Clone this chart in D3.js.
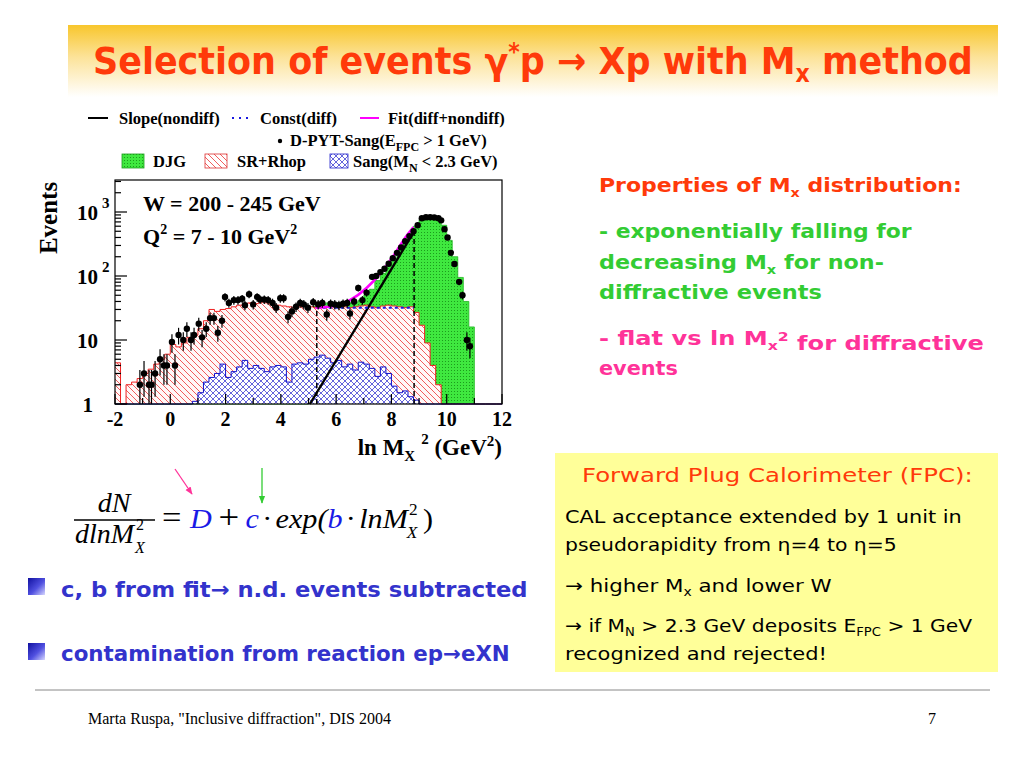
<!DOCTYPE html>
<html>
<head>
<meta charset="utf-8">
<script src="https://cdn.jsdelivr.net/npm/d3@7"></script>
<style>
  body { margin: 0; background: #fff; }
  svg { display: block; }
</style>
</head>
<body>
<svg id="slide" width="1024" height="768"></svg>
<script>
// ---- histogram bins: left edge -2, width 0.2 (ln Mx^2)
var binStart = -2, binWidth = 0.2;

// SR+Rhop (red hatched)
var redVals = [4.4, 0, 2, 2.2, 2.5, 3, 3.5, 4.2, 5, 6,
  8.5, 7.8, 9, 11, 12, 15, 20, 30, 28, 30,
  31, 33, 35, 36, 38, 37, 39, 38, 36, 35,
  34, 33, 32, 33, 34, 33, 32, 34, 33, 33,
  34, 33, 32, 33, 34, 35, 33, 32, 34, 35,
  34, 33, 32, 33, 27, 17, 9, 4, 2, 0,
  0, 0, 0, 0, 0, 0, 0, 0, 0, 0];

// DJG (green)
var greenVals = [0, 0, 0, 0, 0, 0, 0, 0, 0, 0,
  0, 0, 0, 0, 0, 0, 0, 0, 0, 0,
  0, 0, 0, 0, 0, 0, 0, 0, 0, 0,
  0, 0, 0, 0, 0, 30, 34, 37, 38, 37,
  38, 38, 38, 39, 42, 50, 62, 85, 110, 145,
  190, 250, 340, 450, 600, 760, 810, 820, 800, 620,
  360, 200, 95, 40, 16, 0, 0, 0, 0, 0];

// Sang(MN < 2.3 GeV) (blue cross-hatched)
var blueVals = [0, 0, 0, 0, 0, 0, 0, 0, 0, 0,
  0, 0, 0, 0, 1.1, 1.5, 2.2, 2.6, 3, 4.2,
  2.6, 3.2, 3.8, 4.8, 3.6, 4, 3.6, 3.2, 3.8, 4,
  3.8, 2.2, 4.2, 4.4, 4.2, 5, 5.4, 5.8, 5.2, 4.4,
  4.8, 3.8, 4.2, 3.4, 4.5, 4.2, 3.6, 2.7, 3.8, 3,
  1.9, 1.5, 1.6, 1.3, 1.15, 0, 0, 0, 0, 0,
  0, 0, 0, 0, 0, 0, 0, 0, 0, 0];

// D-PYT-Sang data points
var ptX = [-1.10, -0.95, -0.77, -0.68, -0.55, -0.37, -0.23, -0.12, 0.06, 0.17,
  0.30, 0.47, 0.60, 0.75, 0.86, 1.03, 1.15, 1.30, 1.44, 1.58,
  1.72, 1.87, 1.98, 2.12, 2.30, 2.45, 2.60, 2.70, 2.85, 3.00,
  3.14, 3.25, 3.40, 3.54, 3.70, 3.83, 3.98, 4.10, 4.26, 4.40,
  4.55, 4.70, 4.83, 4.98, 5.17, 5.35, 5.50, 5.66, 5.80, 5.95,
  6.10, 6.25, 6.40, 6.50, 6.65, 6.80, 6.95, 7.10, 7.30, 7.45,
  7.60, 7.75, 7.90, 8.05, 8.20, 8.35, 8.50, 8.65, 8.80, 8.95,
  9.10, 9.25, 9.40, 9.55, 9.70, 9.80, 9.92, 10.03, 10.15, 10.28,
  10.45, 10.57, 10.73, 10.84];
var ptY = [2, 3, 2, 2, 3, 5, 4, 4, 9.3, 4,
  12, 10, 15, 10, 12, 18, 11, 15, 22, 22,
  13, 20, 47, 38, 42, 42, 44, 35, 52, 36,
  47, 43, 43, 42, 38, 32, 45, 45, 23, 28,
  33, 38, 36, 32, 39, 36, 38, 25, 37, 36,
  35, 37, 38, 26, 40, 65, 42, 55, 97, 100,
  115, 130, 155, 190, 230, 280, 350, 420, 500, 620,
  800, 830, 830, 820, 800, 740, 540, 400, 230, 154,
  81, 50, 10, 8];
var ptErr = [1.4, 1.7, 1.4, 1.4, 1.7, 2.2, 2, 2, 3, 2,
  3.5, 3.2, 3.9, 3.2, 3.5, 4.2, 3.3, 3.9, 4.7, 4.7,
  3.6, 4.5, 6.9, 6.2, 6.5, 6.5, 6.6, 5.9, 7.2, 6,
  6.9, 6.6, 6.6, 6.5, 6.2, 5.7, 6.7, 6.7, 4.8, 5.3,
  5.7, 6.2, 6, 5.7, 6.2, 6, 6.2, 5, 6.1, 6,
  5.9, 6.1, 6.2, 5.1, 6.3, 8, 6.5, 7.4, 9.8, 10,
  10.7, 11.4, 12.4, 13.8, 15.2, 16.7, 18.7, 20.5, 22.4, 24.9,
  28, 29, 29, 29, 28, 27, 23, 20, 15, 12.4,
  9, 7, 3.2, 2.8];

// fit curves
var slopeLine = [[5.05, 1], [8.85, 520]];
var constLine = [[5.3, 32], [8.8, 32]];
var fitCurve = [[5.25, 32], [5.9, 34], [6.5, 42], [7.1, 65], [7.6, 110], [8.1, 215], [8.45, 370], [8.8, 580]];
var fitRange = [[5.3, 32], [8.82, 500]];

var xTicks = [-2, 0, 2, 4, 6, 8, 10, 12];
var yDecades = [1, 10, 100, 1000];

var svg = d3.select("#slide");
var serif = "'Liberation Serif', 'Times New Roman', serif";
var sans = "'DejaVu Sans', sans-serif";

// squeeze a text horizontally so it spans len pixels from its start x
function fitWidth(t, xx, len) {
  var w = t.node().getBBox().width;
  var k = len / w;
  t.attr("transform", "translate(" + xx + ",0) scale(" + k + ",1) translate(" + (-xx) + ",0)");
  return t;
}

// ---------- defs
var defs = svg.append("defs");
var g1 = defs.append("linearGradient").attr("id", "band").attr("x1", 0).attr("y1", 0).attr("x2", 0).attr("y2", 1);
g1.append("stop").attr("offset", "0%").attr("stop-color", "#f8c62c");
g1.append("stop").attr("offset", "45%").attr("stop-color", "#fce39a");
g1.append("stop").attr("offset", "100%").attr("stop-color", "#ffffff");

var g2 = defs.append("linearGradient").attr("id", "bullet").attr("x1", 0).attr("y1", 0).attr("x2", 1).attr("y2", 1);
g2.append("stop").attr("offset", "0%").attr("stop-color", "#1010a0");
g2.append("stop").attr("offset", "55%").attr("stop-color", "#5050e0");
g2.append("stop").attr("offset", "100%").attr("stop-color", "#d8d8ff");

var pr = defs.append("pattern").attr("id", "hatchRed").attr("patternUnits", "userSpaceOnUse")
  .attr("width", 6).attr("height", 6);
pr.append("path").attr("d", "M0,0 L6,6 M-1,5 L1,7 M5,-1 L7,1")
  .attr("stroke", "#e33").attr("stroke-width", 0.8);

var pb = defs.append("pattern").attr("id", "hatchBlue").attr("patternUnits", "userSpaceOnUse")
  .attr("width", 6).attr("height", 6);
pb.append("path").attr("d", "M0,0 L6,6 M-1,5 L1,7 M5,-1 L7,1 M0,6 L6,0 M-1,1 L1,-1 M5,7 L7,5")
  .attr("stroke", "#22c").attr("stroke-width", 0.7);

var pg = defs.append("pattern").attr("id", "dotGreen").attr("patternUnits", "userSpaceOnUse")
  .attr("width", 3).attr("height", 3);
pg.append("rect").attr("width", 3).attr("height", 3).attr("fill", "#3fe83f");
pg.append("rect").attr("x", 1).attr("y", 1).attr("width", 1).attr("height", 1).attr("fill", "#1c9c1c");

// ---------- title band
svg.append("rect").attr("x", 68).attr("y", 25).attr("width", 930).attr("height", 72).attr("fill", "url(#band)");
var title = svg.append("text").attr("x", 93).attr("y", 74)
  .attr("font-family", sans).attr("font-weight", "bold").attr("font-size", 38)
  .attr("fill", "#ff3a0a");
title.append("tspan").text("Selection of events \u03b3");
title.append("tspan").attr("font-size", 24).attr("dy", -14).text("*");
title.append("tspan").attr("dy", 14).text("p \u2192 Xp with M");
title.append("tspan").attr("font-size", 24).attr("dy", 8).text("x");
title.append("tspan").attr("dy", -8).text(" method");
fitWidth(title, 93, 880);

// ---------- plot
var x = d3.scaleLinear().domain([-2, 12]).range([115, 502]);
var y = d3.scaleLog().domain([1, Math.pow(10, 3.5)]).range([404, 180]).clamp(true);
var y0 = y(1);

function steps(vals) {
  var out = [];
  vals.forEach(function(v, i) {
    var a = binStart + i * binWidth;
    out.push([a, v], [a + binWidth, v]);
  });
  return out;
}
var area = d3.area().x(function(d) { return x(d[0]); }).y0(y0)
  .y1(function(d) { return y(Math.max(d[1], 1)); });
var line = d3.line().x(function(d) { return x(d[0]); })
  .y(function(d) { return y(Math.max(d[1], 1)); });

var plot = svg.append("g");

// green DJG
plot.append("path").datum(steps(greenVals)).attr("d", area).attr("fill", "url(#dotGreen)");
plot.append("path").datum(steps(greenVals)).attr("d", line).attr("fill", "none")
  .attr("stroke", "#22b822").attr("stroke-width", 0.8);
// red SR+Rhop
plot.append("path").datum(steps(redVals)).attr("d", area).attr("fill", "#fff8f8");
plot.append("path").datum(steps(redVals)).attr("d", area).attr("fill", "url(#hatchRed)");
plot.append("path").datum(steps(redVals)).attr("d", line).attr("fill", "none")
  .attr("stroke", "#e22").attr("stroke-width", 1);
// blue Sang
plot.append("path").datum(steps(blueVals)).attr("d", area).attr("fill", "#fff");
plot.append("path").datum(steps(blueVals)).attr("d", area).attr("fill", "url(#hatchBlue)");
plot.append("path").datum(steps(blueVals)).attr("d", line).attr("fill", "none")
  .attr("stroke", "#11c").attr("stroke-width", 1);

// fit range
plot.selectAll(".range").data(fitRange).enter().append("line")
  .attr("x1", function(d) { return x(d[0]); }).attr("x2", function(d) { return x(d[0]); })
  .attr("y1", y0).attr("y2", function(d) { return y(d[1]); })
  .attr("stroke", "#000").attr("stroke-width", 1.5).attr("stroke-dasharray", "5,3");

var fitLine = d3.line().x(function(d) { return x(d[0]); }).y(function(d) { return y(d[1]); });
plot.append("path").datum(slopeLine).attr("d", fitLine).attr("fill", "none")
  .attr("stroke", "#000").attr("stroke-width", 2.4);
plot.append("path").datum(constLine).attr("d", fitLine).attr("fill", "none")
  .attr("stroke", "#1a1ae0").attr("stroke-width", 2).attr("stroke-dasharray", "3,3");
plot.append("path").datum(fitCurve).attr("d", fitLine.curve(d3.curveMonotoneX)).attr("fill", "none")
  .attr("stroke", "#f0f").attr("stroke-width", 2.6);

// data points
var pts = ptX.map(function(v, i) { return { x: v, y: ptY[i], e: ptErr[i] }; });
plot.selectAll(".err").data(pts).enter().append("line")
  .attr("x1", function(d) { return x(d.x); }).attr("x2", function(d) { return x(d.x); })
  .attr("y1", function(d) { return y(Math.max(d.y - d.e, 1)); })
  .attr("y2", function(d) { return y(d.y + d.e); })
  .attr("stroke", "#000").attr("stroke-width", 1.2);
plot.selectAll(".pt").data(pts).enter().append("circle")
  .attr("cx", function(d) { return x(d.x); }).attr("cy", function(d) { return y(d.y); })
  .attr("r", 3.2).attr("fill", "#000");

// frame
svg.append("rect").attr("x", 115).attr("y", 180).attr("width", 387).attr("height", 224)
  .attr("fill", "none").attr("stroke", "#000").attr("stroke-width", 1.2);

// x axis
svg.selectAll(".xt").data(d3.range(-2, 13, 1)).enter().append("line")
  .attr("x1", function(d) { return x(d); }).attr("x2", function(d) { return x(d); })
  .attr("y1", y0).attr("y2", function(d) { return y0 - (d % 2 === 0 ? 10 : 6); })
  .attr("stroke", "#000").attr("stroke-width", 1.2);
svg.selectAll(".xl").data(xTicks).enter().append("text")
  .attr("x", function(d) { return x(d); }).attr("y", 426)
  .attr("text-anchor", "middle").attr("font-family", serif).attr("font-weight", "bold")
  .attr("font-size", 20).text(function(d) { return d; });

// y axis ticks
var minor = [];
yDecades.forEach(function(dec) {
  for (var k = 2; k <= 9; k++) { if (dec * k <= Math.pow(10, 3.5)) minor.push(dec * k); }
});
svg.selectAll(".ymin").data(minor).enter().append("line")
  .attr("x1", 115).attr("x2", 121).attr("y1", function(d) { return y(d); }).attr("y2", function(d) { return y(d); })
  .attr("stroke", "#000").attr("stroke-width", 1.2);
svg.selectAll(".ymaj").data(yDecades).enter().append("line")
  .attr("x1", 115).attr("x2", 127).attr("y1", function(d) { return y(d); }).attr("y2", function(d) { return y(d); })
  .attr("stroke", "#000").attr("stroke-width", 1.2);
svg.selectAll(".yl").data(yDecades).enter().append("text")
  .attr("x", function(d) { return d === 1 ? 93 : 98; })
  .attr("y", function(d) { return y(d) + 8; })
  .attr("text-anchor", "end").attr("font-family", serif).attr("font-weight", "bold").attr("font-size", 21)
  .text(function(d) { return d === 1 ? "1" : "10"; });
svg.selectAll(".ye").data(yDecades.filter(function(d) { return d >= 100; })).enter().append("text")
  .attr("x", 102).attr("y", function(d) { return y(d) - 4; })
  .attr("font-family", serif).attr("font-weight", "bold").attr("font-size", 15)
  .text(function(d) { return Math.round(Math.log10(d)); });

svg.append("text").attr("transform", "translate(57,218) rotate(-90)")
  .attr("text-anchor", "middle").attr("font-family", serif).attr("font-weight", "bold").attr("font-size", 25)
  .text("Events");

var xt = svg.append("text").attr("x", 502).attr("y", 455).attr("text-anchor", "end")
  .attr("font-family", serif).attr("font-weight", "bold").attr("font-size", 23);
xt.append("tspan").text("ln M");
xt.append("tspan").attr("font-size", 15).attr("dy", 6).text("X");
xt.append("tspan").attr("font-size", 15).attr("dy", -17).attr("dx", 6).text("2");
xt.append("tspan").attr("dy", 11).text(" (GeV");
xt.append("tspan").attr("font-size", 15).attr("dy", -9).text("2");
xt.append("tspan").attr("dy", 9).text(")");

// in-plot labels
svg.append("text").attr("x", 143).attr("y", 211).attr("font-family", serif).attr("font-weight", "bold")
  .attr("font-size", 22).text("W = 200 - 245 GeV");
var q = svg.append("text").attr("x", 143).attr("y", 244).attr("font-family", serif).attr("font-weight", "bold")
  .attr("font-size", 22);
q.append("tspan").text("Q");
q.append("tspan").attr("font-size", 14).attr("dy", -10).text("2");
q.append("tspan").attr("dy", 10).text(" = 7 - 10 GeV");
q.append("tspan").attr("font-size", 14).attr("dy", -10).text("2");

// legend
var lg = svg.append("g").attr("font-family", serif).attr("font-weight", "bold").attr("font-size", 16.5);
lg.append("line").attr("x1", 88).attr("x2", 108).attr("y1", 118).attr("y2", 118).attr("stroke", "#000").attr("stroke-width", 2);
lg.append("text").attr("x", 119).attr("y", 124).text("Slope(nondiff)");
lg.append("line").attr("x1", 232).attr("x2", 252).attr("y1", 118).attr("y2", 118)
  .attr("stroke", "#1a1ae0").attr("stroke-width", 2).attr("stroke-dasharray", "2,5");
lg.append("text").attr("x", 260).attr("y", 124).text("Const(diff)");
lg.append("line").attr("x1", 360).attr("x2", 379).attr("y1", 118).attr("y2", 118).attr("stroke", "#f0f").attr("stroke-width", 2);
lg.append("text").attr("x", 388).attr("y", 124).text("Fit(diff+nondiff)");

lg.append("circle").attr("cx", 280).attr("cy", 141).attr("r", 2.2).attr("fill", "#000");
var l2 = lg.append("text").attr("x", 290).attr("y", 146);
l2.append("tspan").text("D-PYT-Sang(E");
l2.append("tspan").attr("font-size", 12).attr("dy", 5).text("FPC");
l2.append("tspan").attr("dy", -5).text(" > 1 GeV)");

lg.append("rect").attr("x", 122).attr("y", 154).attr("width", 22).attr("height", 14)
  .attr("fill", "url(#dotGreen)").attr("stroke", "#1c9c1c").attr("stroke-width", 0.8);
lg.append("text").attr("x", 153).attr("y", 167).text("DJG");
lg.append("rect").attr("x", 205).attr("y", 154).attr("width", 22).attr("height", 14)
  .attr("fill", "url(#hatchRed)").attr("stroke", "#d33").attr("stroke-width", 0.8);
lg.append("text").attr("x", 237).attr("y", 167).text("SR+Rhop");
lg.append("rect").attr("x", 330).attr("y", 154).attr("width", 18).attr("height", 14)
  .attr("fill", "url(#hatchBlue)").attr("stroke", "#22c").attr("stroke-width", 0.8);
var l3 = lg.append("text").attr("x", 353).attr("y", 167);
l3.append("tspan").text("Sang(M");
l3.append("tspan").attr("font-size", 12).attr("dy", 5).text("N");
l3.append("tspan").attr("dy", -5).text(" < 2.3 GeV)");

// ---------- slide text helper
function richLine(g, xx, yy, parts, color, size, len, weight) {
  var t = g.append("text").attr("x", xx).attr("y", yy).attr("font-family", sans)
    .attr("font-size", size).attr("fill", color).attr("font-weight", weight || "bold");
  parts.forEach(function(p) {
    var s = t.append("tspan").text(p[0]);
    if (p[1] === "sub") s.attr("font-size", size * 0.65).attr("dy", size * 0.25);
    if (p[1] === "sup") s.attr("font-size", size * 0.65).attr("dy", -size * 0.45);
    if (p[1] === "back") s.attr("dy", -size * 0.25);
    if (p[1] === "down") s.attr("dy", size * 0.45);
  });
  if (len) fitWidth(t, xx, len);
  return t;
}

// yellow FPC box (behind its text)
svg.append("rect").attr("x", 555).attr("y", 453).attr("width", 443).attr("height", 219).attr("fill", "#ffff99");

var rt = svg.append("g");
richLine(rt, 599, 192, [["Properties of M"], ["x", "sub"], [" distribution:", "back"]], "#ff3a0a", 20, 363);
richLine(rt, 599, 238, [["- exponentially falling for"]], "#33cc33", 20, 313);
richLine(rt, 599, 269, [["decreasing M"], ["x", "sub"], [" for non-", "back"]], "#33cc33", 20, 285);
richLine(rt, 599, 299, [["diffractive events"]], "#33cc33", 20, 223);
richLine(rt, 599, 345, [["- flat vs ln M"], ["x", "sub"], ["2", "sup"], [" for diffractive", "down"]], "#ff3399", 20, 385);
richLine(rt, 599, 375, [["events"]], "#ff3399", 20, 79);

richLine(rt, 582, 482, [["Forward Plug Calorimeter (FPC):"]], "#ff3a0a", 20, 391, "normal");
richLine(rt, 565, 523, [["CAL acceptance extended by 1 unit in"]], "#000", 18, 397, "normal");
richLine(rt, 565, 551, [["pseudorapidity from \u03b7=4 to \u03b7=5"]], "#000", 18, 332, "normal");
richLine(rt, 565, 592, [["\u2192 higher M"], ["x", "sub"], [" and lower W", "back"]], "#000", 18, 267, "normal");
richLine(rt, 565, 632, [["\u2192 if M"], ["N", "sub"], [" > 2.3 GeV deposits E", "back"], ["FPC", "sub"], [" > 1 GeV", "back"]], "#000", 18, 408, "normal");
richLine(rt, 565, 660, [["recognized and rejected!"]], "#000", 18, 262, "normal");

// ---------- formula
var fm = svg.append("g").attr("font-family", serif).attr("font-size", 28);
fm.append("text").attr("x", 114).attr("y", 512).attr("text-anchor", "middle").attr("font-style", "italic").text("dN");
fm.append("line").attr("x1", 74).attr("x2", 155).attr("y1", 520).attr("y2", 520).attr("stroke", "#000").attr("stroke-width", 1.4);
fm.append("text").attr("x", 75).attr("y", 543).attr("font-style", "italic").text("dlnM");
fm.append("text").attr("x", 136).attr("y", 530).attr("font-size", 16).text("2");
fm.append("text").attr("x", 135).attr("y", 553).attr("font-size", 16).attr("font-style", "italic").text("X");

var rhs = fm.append("g");
var cx = 162;
var base = 528;
function piece(txt, opt) {
  cx += opt.pre || 0;
  var t = rhs.append("text").attr("x", cx).attr("y", base).text(txt);
  if (opt.size) t.attr("font-size", opt.size);
  if (opt.it) t.attr("font-style", "italic");
  if (opt.fill) t.attr("fill", opt.fill);
  cx += t.node().getComputedTextLength();
}
piece("=", { size: 32 });
piece("D", { it: true, fill: "#1a1ae6", pre: 8 });
piece("+", { size: 34, pre: 6 });
piece("c", { it: true, fill: "#1a1ae6", pre: 6 });
piece("\u00b7", { pre: 3 });
piece("exp(", { it: true, pre: 3 });
piece("b", { it: true, fill: "#1a1ae6" });
piece("\u00b7", { pre: 3 });
piece("lnM", { it: true, pre: 3 });
rhs.append("text").attr("x", cx + 1).attr("y", 515).attr("font-size", 16).text("2");
rhs.append("text").attr("x", cx - 1).attr("y", 538).attr("font-size", 16).attr("font-style", "italic").text("X");
cx += 14;
piece(")", {});
fitWidth(rhs, 162, 433 - 162);

// arrows to D and c
defs.append("marker").attr("id", "arP").attr("viewBox", "0 0 10 10").attr("refX", 9).attr("refY", 5)
  .attr("markerWidth", 6).attr("markerHeight", 6).attr("orient", "auto")
  .append("path").attr("d", "M0,1 L10,5 L0,9 z").attr("fill", "#ff3399");
defs.append("marker").attr("id", "arG").attr("viewBox", "0 0 10 10").attr("refX", 9).attr("refY", 5)
  .attr("markerWidth", 6).attr("markerHeight", 6).attr("orient", "auto")
  .append("path").attr("d", "M0,1 L10,5 L0,9 z").attr("fill", "#33cc33");
svg.append("line").attr("x1", 175).attr("y1", 469).attr("x2", 192).attr("y2", 494)
  .attr("stroke", "#ff3399").attr("stroke-width", 1.3).attr("marker-end", "url(#arP)");
svg.append("line").attr("x1", 262).attr("y1", 468).attr("x2", 262).attr("y2", 503)
  .attr("stroke", "#33cc33").attr("stroke-width", 1.3).attr("marker-end", "url(#arG)");

// ---------- bullets
svg.append("rect").attr("x", 28).attr("y", 578).attr("width", 17).attr("height", 17).attr("fill", "url(#bullet)");
svg.append("rect").attr("x", 28).attr("y", 643).attr("width", 17).attr("height", 17).attr("fill", "url(#bullet)");
richLine(rt, 61, 597, [["c, b from fit\u2192 n.d. events subtracted"]], "#3333cc", 21, 467);
richLine(rt, 61, 661, [["contamination from reaction ep\u2192eXN"]], "#3333cc", 21, 449);

// ---------- footer
svg.append("line").attr("x1", 35).attr("x2", 990).attr("y1", 690).attr("y2", 690).attr("stroke", "#888").attr("stroke-width", 1);
svg.append("text").attr("x", 88).attr("y", 724).attr("font-family", serif).attr("font-size", 16)
  .text("Marta Ruspa, \"Inclusive diffraction\", DIS 2004");
svg.append("text").attr("x", 928).attr("y", 724).attr("font-family", serif).attr("font-size", 16).text("7");
</script>
</body>
</html>
